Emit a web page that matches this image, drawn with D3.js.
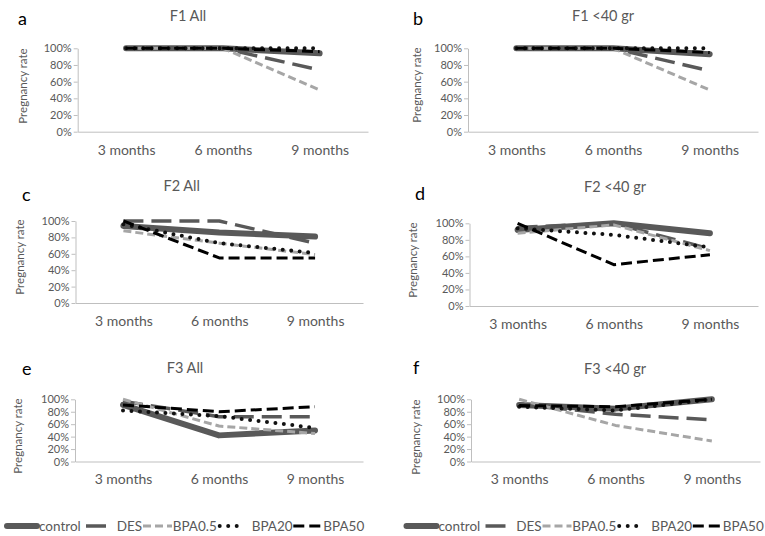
<!DOCTYPE html>
<meta charset="utf-8">
<style type="text/css">
  body { margin: 0; background: #fff; }
  text { font-family: Lato, "Open Sans", sans-serif; }
  .axis path, .axis line { stroke: #bfbfbf; }
  .axis text { fill: #595959; }
</style>
<body>
<div id="chart"></div>
<script src="https://d3js.org/d3.v7.min.js"></script>
<script>

var width = 765,
    height = 536;

// data (pregnancy rate, %)
var months = ["3 months", "6 months", "9 months"];
var seriesNames = ["control", "DES", "BPA0.5", "BPA20", "BPA50"];
var yTicks = [0, 0.2, 0.4, 0.6, 0.8, 1];
var panelLetters = ["a", "b", "c", "d", "e", "f"];
var panelTitles = ["F1 All", "F1 <40 gr", "F2 All", "F2 <40 gr", "F3 All", "F3 <40 gr"];

// one row per series, in seriesNames order
var f1All     = [[100, 100, 94], [100, 100, 74], [100, 100, 50], [100, 100, 100], [100, 100, 96]];
var f1Under40 = [[100, 100, 93], [100, 100, 73], [100, 100, 50], [100, 100, 100], [100, 100, 95]];
var f2All     = [[94, 86, 81], [100, 100, 73], [88, 73, 59], [96, 73, 61], [100, 55, 55]];
var f2Under40 = [[92, 100, 88], [95, 100, 69], [88, 98, 67], [94, 86, 71], [100, 50, 62]];
var f3All     = [[91, 42, 50], [97, 72, 72], [100, 57, 45], [82, 73, 54], [91, 80, 88]];
var f3Under40 = [[91, 85, 100], [92, 76, 67], [100, 58, 33], [88, 82, 100], [90, 88, 100]];

var panelData = [f1All, f1Under40, f2All, f2Under40, f3All, f3Under40];

// layout of each panel (plot box, letter, title, y label)
var panels = [
  {x0: 77.7, x1: 368, top: 48.3,  bottom: 131.7, letter: [18, 25],   title: [188, 21],   ylab: [22.7, 86]},
  {x0: 468,  x1: 758, top: 48.3,  bottom: 131.7, letter: [413, 25],  title: [603, 21],   ylab: [416.7, 85]},
  {x0: 75.5, x1: 363, top: 221,   bottom: 303,   letter: [22, 200.5],title: [181.7, 191],ylab: [20, 257]},
  {x0: 469.5,x1: 758, top: 223.3, bottom: 306,   letter: [415, 200], title: [615, 192],  ylab: [413.3, 260]},
  {x0: 75,   x1: 363, top: 399.3, bottom: 461.5, letter: [22, 375],  title: [185, 373],  ylab: [18.3, 436]},
  {x0: 471,  x1: 760, top: 399.3, bottom: 461.5, letter: [413, 374], title: [615, 374],  ylab: [416, 437]}
];

var styles = [
  {color: "#595959", width: 6,   dash: null,    cap: "round"},
  {color: "#595959", width: 3.5, dash: "20,8",  cap: "butt"},
  {color: "#a6a6a6", width: 3,   dash: "8,4",   cap: "butt"},
  {color: "#111111", width: 4,   dash: "0,8.5", cap: "round"},
  {color: "#000000", width: 3,   dash: "11,5",  cap: "butt"}
];

var svg = d3.select("#chart").append("svg")
    .attr("width", width)
    .attr("height", height);

panels.forEach(function(p, i) {
  var g = svg.append("g");

  var x = d3.scalePoint().domain(months).range([p.x0, p.x1]).padding(0.5);
  var y = d3.scaleLinear().domain([0, 1]).range([p.bottom, p.top]);

  g.append("g")
      .attr("class", "axis")
      .attr("transform", "translate(0," + p.bottom + ")")
      .call(d3.axisBottom(x).tickSize(0).tickPadding(13))
      .call(function(a) { a.selectAll("text").style("font-size", "14px"); });

  g.append("g")
      .attr("class", "axis")
      .attr("transform", "translate(" + p.x0 + ",0)")
      .call(d3.axisLeft(y).tickValues(yTicks).tickFormat(d3.format(".0%"))
              .tickSizeInner(4).tickSizeOuter(0).tickPadding(2))
      .call(function(a) { a.selectAll("text").style("font-size", "11px"); });

  g.append("text")
      .attr("x", p.letter[0]).attr("y", p.letter[1])
      .style("font-size", "18px").attr("fill", "#000")
      .text(panelLetters[i]);

  g.append("text")
      .attr("x", p.title[0]).attr("y", p.title[1])
      .attr("text-anchor", "middle")
      .style("font-size", "14.5px").attr("fill", "#595959")
      .text(panelTitles[i]);

  g.append("text")
      .attr("transform", "translate(" + p.ylab[0] + "," + p.ylab[1] + ") rotate(-90)")
      .attr("text-anchor", "middle").attr("dy", "0.35em")
      .style("font-size", "11.5px").attr("fill", "#595959")
      .text("Pregnancy rate");

  var line = d3.line()
      .x(function(d, j) { return x(months[j]); })
      .y(function(d) { return y(d / 100); });

  g.selectAll(".series")
      .data(panelData[i])
    .enter().append("path")
      .attr("class", "series")
      .attr("d", line)
      .attr("fill", "none")
      .attr("stroke", function(d, k) { return styles[k].color; })
      .attr("stroke-width", function(d, k) { return styles[k].width; })
      .attr("stroke-dasharray", function(d, k) { return styles[k].dash; })
      .attr("stroke-linecap", function(d, k) { return styles[k].cap; })
      .attr("stroke-linejoin", "round");
});

// legends under the bottom row
var legendBase = [7, 406.5];
var legendLine = [[0, 30], [79, 99], [136, 165], [212.7, 230], [286.3, 316.3]];
var legendText = [32, 109.7, 165.7, 244.7, 316.3];

legendBase.forEach(function(bx) {
  var lg = svg.append("g").attr("transform", "translate(" + bx + ",0)");
  seriesNames.forEach(function(name, k) {
    lg.append("line")
        .attr("x1", legendLine[k][0]).attr("x2", legendLine[k][1])
        .attr("y1", 526).attr("y2", 526)
        .attr("stroke", styles[k].color)
        .attr("stroke-width", styles[k].width)
        .attr("stroke-dasharray", styles[k].dash)
        .attr("stroke-linecap", styles[k].cap);
    lg.append("text")
        .attr("x", legendText[k]).attr("y", 531)
        .style("font-size", "13.5px").attr("fill", "#595959")
        .text(name);
  });
});

</script>
</body>
